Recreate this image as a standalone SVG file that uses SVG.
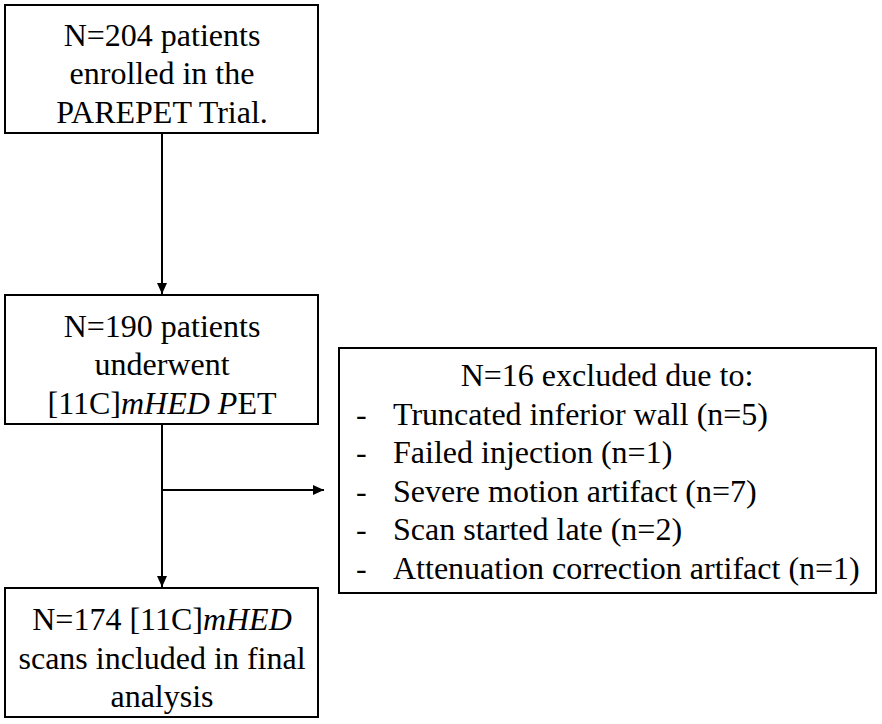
<svg xmlns="http://www.w3.org/2000/svg" width="882" height="724" viewBox="0 0 882 724">
<style>
.box{fill:#fff;stroke:#000;stroke-width:2}
.conn{stroke:#000;stroke-width:2;fill:none}
</style>
<defs>
<marker id="ah" markerWidth="12" markerHeight="10" refX="11" refY="5" orient="auto" markerUnits="userSpaceOnUse">
<path d="M0,0 L11,5 L0,10 Z" fill="#000"/>
</marker>
</defs>
<rect width="882" height="724" fill="#fff"/>
<g id="connectors">
<line class="conn" x1="162" y1="134" x2="162" y2="294" marker-end="url(#ah)"/>
<line class="conn" x1="162" y1="425" x2="162" y2="587" marker-end="url(#ah)"/>
<line class="conn" x1="162" y1="490" x2="324" y2="490" marker-end="url(#ah)"/>
</g>
<g id="enrolled">
<rect class="box" x="5" y="5" width="313" height="128"/>
<text style="font-family:'Liberation Serif',serif;font-size:32px;text-anchor:middle" x="162" y="46">N=204 patients</text>
<text style="font-family:'Liberation Serif',serif;font-size:32px;text-anchor:middle" x="162" y="84">enrolled in the</text>
<text style="font-family:'Liberation Serif',serif;font-size:32px;text-anchor:middle" x="162" y="123">PAREPET Trial.</text>
</g>
<g id="underwent">
<rect class="box" x="5" y="295" width="313" height="129"/>
<text style="font-family:'Liberation Serif',serif;font-size:32px;text-anchor:middle" x="162" y="337">N=190 patients</text>
<text style="font-family:'Liberation Serif',serif;font-size:32px;text-anchor:middle" x="162" y="375">underwent</text>
<text style="font-family:'Liberation Serif',serif;font-size:32px;text-anchor:middle" x="162" y="414">[11C]<tspan style="font-style:italic">mHED P</tspan>ET</text>
</g>
<g id="excluded">
<rect class="box" x="339" y="348" width="537" height="245"/>
<text style="font-family:'Liberation Serif',serif;font-size:32px;text-anchor:middle" x="607" y="386">N=16 excluded due to:</text>
<text style="font-family:'Liberation Serif',serif;font-size:32px" x="356" y="425">-</text>
<text style="font-family:'Liberation Serif',serif;font-size:32px" x="393" y="425">Truncated inferior wall (n=5)</text>
<text style="font-family:'Liberation Serif',serif;font-size:32px" x="356" y="463">-</text>
<text style="font-family:'Liberation Serif',serif;font-size:32px" x="393" y="463">Failed injection (n=1)</text>
<text style="font-family:'Liberation Serif',serif;font-size:32px" x="356" y="502">-</text>
<text style="font-family:'Liberation Serif',serif;font-size:32px" x="393" y="502">Severe motion artifact (n=7)</text>
<text style="font-family:'Liberation Serif',serif;font-size:32px" x="356" y="540">-</text>
<text style="font-family:'Liberation Serif',serif;font-size:32px" x="393" y="540">Scan started late (n=2)</text>
<text style="font-family:'Liberation Serif',serif;font-size:32px" x="356" y="579">-</text>
<text style="font-family:'Liberation Serif',serif;font-size:32px" x="393" y="579">Attenuation correction artifact (n=1)</text>
</g>
<g id="final">
<rect class="box" x="5" y="588" width="313" height="129"/>
<text style="font-family:'Liberation Serif',serif;font-size:32px;text-anchor:middle" x="162" y="630">N=174 [11C]<tspan style="font-style:italic">mHED</tspan></text>
<text style="font-family:'Liberation Serif',serif;font-size:32px;text-anchor:middle" x="162" y="669">scans included in final</text>
<text style="font-family:'Liberation Serif',serif;font-size:32px;text-anchor:middle" x="162" y="707">analysis</text>
</g>
</svg>
